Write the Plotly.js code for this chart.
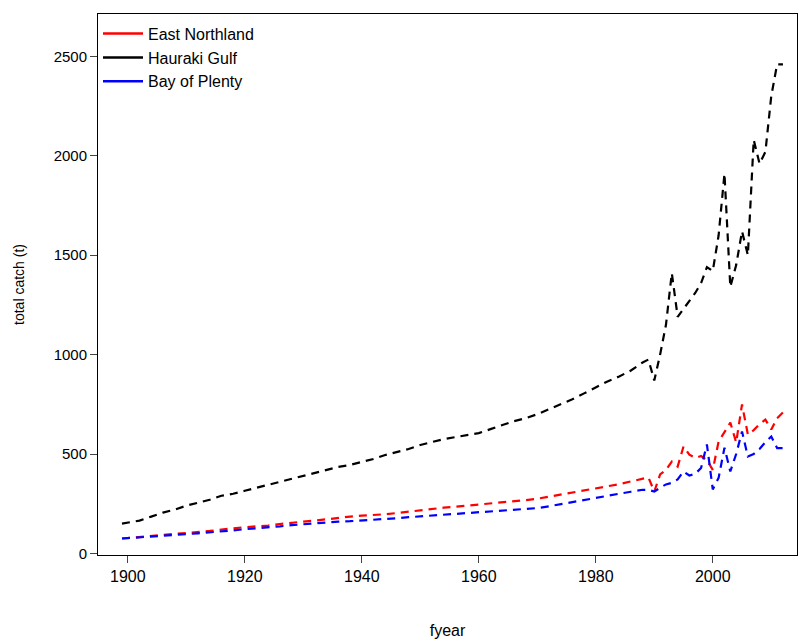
<!DOCTYPE html>
<html>
<head>
<meta charset="utf-8">
<script src="https://cdn.plot.ly/plotly-3.0.1.min.js"></script>
<style>body{margin:0;background:#fff}#chart{width:800px;height:640px}</style>
</head>
<body>
<div id="chart"></div>
<script>
// catch by region, every 2nd year up to 1988, then annual
const years = [1899, 1902, 1904, 1906, 1908, 1910, 1912, 1914, 1916, 1918, 1920, 1922, 1924, 1926, 1928,
  1930, 1932, 1934, 1936, 1938, 1940, 1942, 1944, 1946, 1948, 1950, 1952, 1954, 1956, 1958, 1960,
  1962, 1964, 1966, 1968, 1970, 1972, 1974, 1976, 1978, 1980, 1982, 1984, 1986, 1988,
  1989, 1990, 1991, 1992, 1993, 1994, 1995, 1996, 1997, 1998, 1999, 2000, 2001, 2002, 2003,
  2004, 2005, 2006, 2007, 2008, 2009, 2010, 2011, 2012];

const eastNorthland = [75, 82, 87, 92, 98, 103, 108, 113, 120, 127, 132, 136, 140, 148, 155,
  160, 165, 172, 180, 185, 190, 193, 197, 203, 210, 218, 224, 230, 235, 240, 245,
  252, 258, 263, 268, 275, 285, 295, 305, 315, 328, 338, 348, 362, 375,
  382, 311, 397, 420, 462, 437, 538, 497, 480, 490, 470, 420, 563, 610, 658,
  558, 749, 598, 620, 650, 673, 623, 680, 709];

const haurakiGulf = [150, 165, 185, 205, 220, 240, 255, 270, 290, 300, 315, 330, 345, 360, 375,
  390, 405, 420, 435, 445, 460, 475, 495, 510, 525, 545, 560, 575, 585, 595, 605,
  625, 645, 665, 680, 700, 725, 750, 775, 805, 835, 865, 890, 920, 960,
  975, 870, 1000, 1150, 1410, 1190, 1230, 1270, 1310, 1360, 1440, 1420, 1600, 1910, 1340,
  1450, 1620, 1500, 2080, 1960, 2020, 2300, 2460, 2460];

const bayOfPlenty = [75, 80, 84, 88, 93, 97, 101, 105, 110, 116, 122, 126, 130, 136, 142,
  147, 152, 157, 160, 162, 165, 168, 172, 177, 182, 186, 190, 195, 200, 203, 205,
  210, 215, 220, 224, 228, 237, 248, 258, 268, 280, 290, 300, 310, 320,
  320, 311, 330, 347, 355, 372, 412, 392, 400, 430, 548, 322, 380, 532, 412,
  500, 613, 487, 500, 525, 560, 588, 530, 530];

const names = ["East Northland", "Hauraki Gulf", "Bay of Plenty"];
const colors = ["#ff0000", "#000000", "#0000ff"];
const series = [eastNorthland, haurakiGulf, bayOfPlenty];

const traces = [];
series.forEach((s, i) => {
  traces.push({x: years, y: s, mode: "lines", showlegend: false,
    line: {color: colors[i], width: 2.2, dash: "8px,6px"}});
});
// solid lines for the legend
names.forEach((n, i) => {
  traces.push({x: [null], y: [null], mode: "lines", name: n,
    line: {color: colors[i], width: 2.5}});
});

const layout = {
  width: 800, height: 640,
  margin: {l: 98, r: 3, t: 14, b: 85},
  paper_bgcolor: "#fff", plot_bgcolor: "#fff",
  font: {family: "Liberation Sans, Arial, sans-serif", size: 14, color: "#000"},
  showlegend: true,
  legend: {x: 0.0, y: 0.995, xanchor: "left", yanchor: "top", bgcolor: "rgba(0,0,0,0)",
    font: {size: 16}, tracegroupgap: 0, itemwidth: 40},
  xaxis: {
    range: [1894.9, 2014.4], tickvals: [1900, 1920, 1940, 1960, 1980, 2000],
    showgrid: false, zeroline: false, showline: true, mirror: true, linecolor: "#000",
    ticks: "outside", ticklen: 7, tickfont: {size: 16},
    title: {text: "fyear", font: {size: 16}, standoff: 40}
  },
  yaxis: {
    range: [-8, 2713], tickvals: [0, 500, 1000, 1500, 2000, 2500],
    showgrid: false, zeroline: false, showline: true, mirror: true, linecolor: "#000",
    ticks: "outside", ticklen: 7, tickfont: {size: 15},
    title: {text: "total catch (t)", font: {size: 14}, standoff: 25}
  }
};

Plotly.newPlot("chart", traces, layout, {displayModeBar: false});
</script>
</body>
</html>
